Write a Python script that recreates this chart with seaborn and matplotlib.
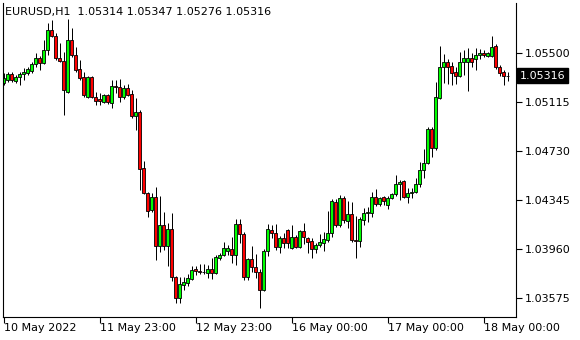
import matplotlib
matplotlib.use("Agg")
import matplotlib.pyplot as plt
import matplotlib.transforms as mtransforms
import seaborn as sns
import numpy as np
import pandas as pd

symbol_text = "EURUSD,H1  1.05314 1.05347 1.05276 1.05316"
last_price = 1.05316

opens = [1.05260, 1.05284, 1.05331, 1.05276, 1.05308, 1.05331, 1.05339, 1.05355, 1.05410, 1.05457,
         1.05418, 1.05520, 1.05677, 1.05630, 1.05457, 1.05433, 1.05190, 1.05598, 1.05480, 1.05370,
         1.05308, 1.05150, 1.05308, 1.05150, 1.05135, 1.05111, 1.05166, 1.05103, 1.05237, 1.05229,
         1.05150, 1.05221, 1.05174, 1.05001, 1.05033, 1.04593, 1.04396, 1.04263, 1.04365, 1.03980,
         1.04145, 1.03980, 1.04113, 1.03736, 1.03571, 1.03673, 1.03689, 1.03720, 1.03799, 1.03783,
         1.03775, 1.03768, 1.03799, 1.03768, 1.03885, 1.03909, 1.03940, 1.03956, 1.03909, 1.04153,
         1.04074, 1.03736, 1.03878, 1.03815, 1.03775, 1.03634, 1.03940, 1.04105, 1.04082, 1.03972,
         1.04043, 1.04105, 1.03964, 1.04050, 1.03972, 1.04098, 1.04043, 1.04019, 1.03956, 1.03988,
         1.04003, 1.04027, 1.04082, 1.04325, 1.04145, 1.04357, 1.04176, 1.04231, 1.04027, 1.04019,
         1.04184, 1.04239, 1.04239, 1.04365, 1.04310, 1.04365, 1.04302, 1.04357, 1.04388, 1.04467,
         1.04490, 1.04365, 1.04396, 1.04404, 1.04467, 1.04577, 1.04632, 1.04899, 1.04750, 1.05143,
         1.05386, 1.05425, 1.05394, 1.05347, 1.05315, 1.05425, 1.05425, 1.05457, 1.05449, 1.05480,
         1.05496, 1.05473, 1.05473, 1.05551, 1.05386, 1.05347, 1.05314]
highs = [1.05339, 1.05347, 1.05347, 1.05323, 1.05347, 1.05378, 1.05386, 1.05425, 1.05496, 1.05473,
         1.05598, 1.05732, 1.05755, 1.05653, 1.05575, 1.05504, 1.05763, 1.05693, 1.05543, 1.05441,
         1.05347, 1.05315, 1.05315, 1.05190, 1.05182, 1.05174, 1.05174, 1.05284, 1.05284, 1.05292,
         1.05245, 1.05253, 1.05205, 1.05143, 1.05048, 1.04648, 1.04404, 1.04396, 1.04443, 1.04373,
         1.04247, 1.04160, 1.04239, 1.03744, 1.03736, 1.03736, 1.03760, 1.03823, 1.03823, 1.03838,
         1.03838, 1.03830, 1.03885, 1.03909, 1.03925, 1.04011, 1.03988, 1.04050, 1.04192, 1.04192,
         1.04090, 1.03885, 1.03980, 1.03917, 1.03799, 1.03956, 1.04153, 1.04145, 1.04153, 1.04058,
         1.04082, 1.04113, 1.04145, 1.04066, 1.04105, 1.04160, 1.04050, 1.04043, 1.04003, 1.04074,
         1.04090, 1.04255, 1.04349, 1.04349, 1.04380, 1.04373, 1.04333, 1.04325, 1.04215, 1.04208,
         1.04278, 1.04286, 1.04404, 1.04428, 1.04365, 1.04373, 1.04373, 1.04396, 1.04538, 1.04498,
         1.04498, 1.04435, 1.04435, 1.04514, 1.04640, 1.04742, 1.04915, 1.04915, 1.05268, 1.05551,
         1.05488, 1.05449, 1.05425, 1.05386, 1.05504, 1.05520, 1.05535, 1.05496, 1.05535, 1.05528,
         1.05520, 1.05504, 1.05630, 1.05567, 1.05402, 1.05363, 1.05347]
lows = [1.05245, 1.05268, 1.05268, 1.05260, 1.05245, 1.05284, 1.05323, 1.05339, 1.05386, 1.05363,
        1.05410, 1.05480, 1.05622, 1.05441, 1.05425, 1.05009, 1.05182, 1.05465, 1.05347, 1.05284,
        1.05150, 1.05143, 1.05143, 1.05088, 1.05088, 1.05103, 1.05095, 1.05064, 1.05182, 1.05111,
        1.05135, 1.05158, 1.04985, 1.04891, 1.04420, 1.04388, 1.04208, 1.04247, 1.03870, 1.03933,
        1.03948, 1.03823, 1.03705, 1.03532, 1.03532, 1.03634, 1.03665, 1.03713, 1.03752, 1.03760,
        1.03760, 1.03728, 1.03720, 1.03760, 1.03870, 1.03901, 1.03909, 1.03846, 1.03830, 1.04003,
        1.03713, 1.03713, 1.03775, 1.03728, 1.03493, 1.03626, 1.03901, 1.04043, 1.03948, 1.03925,
        1.03964, 1.03964, 1.03956, 1.03964, 1.03964, 1.03995, 1.03925, 1.03885, 1.03925, 1.03972,
        1.03940, 1.04011, 1.04050, 1.04129, 1.04129, 1.04160, 1.04121, 1.04011, 1.03885, 1.03972,
        1.04145, 1.04168, 1.04208, 1.04294, 1.04294, 1.04302, 1.04270, 1.04349, 1.04373, 1.04341,
        1.04357, 1.04318, 1.04357, 1.04396, 1.04443, 1.04514, 1.04624, 1.04679, 1.04734, 1.05135,
        1.05260, 1.05253, 1.05245, 1.05253, 1.05308, 1.05323, 1.05198, 1.05386, 1.05363, 1.05449,
        1.05465, 1.05465, 1.05465, 1.05370, 1.05315, 1.05245, 1.05276]
closes = [1.05300, 1.05331, 1.05284, 1.05308, 1.05331, 1.05347, 1.05370, 1.05410, 1.05457, 1.05418,
          1.05520, 1.05677, 1.05630, 1.05457, 1.05433, 1.05205, 1.05598, 1.05480, 1.05363, 1.05300,
          1.05166, 1.05308, 1.05150, 1.05119, 1.05119, 1.05166, 1.05111, 1.05237, 1.05229, 1.05150,
          1.05221, 1.05166, 1.05001, 1.05033, 1.04585, 1.04396, 1.04255, 1.04365, 1.03980, 1.04145,
          1.03980, 1.04113, 1.03736, 1.03571, 1.03681, 1.03697, 1.03728, 1.03791, 1.03783, 1.03775,
          1.03778, 1.03799, 1.03768, 1.03893, 1.03909, 1.03964, 1.03964, 1.03909, 1.04153, 1.04074,
          1.03736, 1.03878, 1.03815, 1.03775, 1.03634, 1.03940, 1.04113, 1.04082, 1.03972, 1.04043,
          1.04003, 1.04003, 1.04050, 1.03972, 1.04098, 1.04050, 1.04011, 1.03956, 1.03988, 1.04011,
          1.04035, 1.04082, 1.04333, 1.04145, 1.04357, 1.04184, 1.04231, 1.04027, 1.04022, 1.04192,
          1.04239, 1.04247, 1.04365, 1.04310, 1.04357, 1.04333, 1.04357, 1.04388, 1.04467, 1.04483,
          1.04365, 1.04396, 1.04404, 1.04467, 1.04577, 1.04632, 1.04899, 1.04750, 1.05150, 1.05386,
          1.05425, 1.05386, 1.05339, 1.05315, 1.05425, 1.05457, 1.05457, 1.05425, 1.05480, 1.05496,
          1.05480, 1.05496, 1.05543, 1.05386, 1.05339, 1.05315, 1.05316]

time_tick_bars = [0, 24, 48, 72, 96, 120]
time_tick_labels = ["10 May 2022", "11 May 23:00", "12 May 23:00",
                    "16 May 00:00", "17 May 00:00", "18 May 00:00"]
price_ticks = [1.05500, 1.05115, 1.04730, 1.04345, 1.03960, 1.03575]

sns.set_theme(style="white")
plt.rcParams['font.family'] = ['DejaVu Sans']

W, H = 580, 340
fig = plt.figure(figsize=(W / 100, H / 100), dpi=100)
fig.patch.set_facecolor('white')
ax = fig.add_axes([3 / W, 1 - 317 / H, 513 / W, 314 / H])
ax.set_facecolor('white')

df = pd.DataFrame(dict(o=opens, h=highs, l=lows, c=closes))
df['x'] = np.arange(len(df))
up = df['c'] >= df['o']

ax.vlines(df['x'], df['l'], df['h'], color='black', linewidth=0.72, zorder=1)
bottom = np.minimum(df['o'], df['c'])
height = np.maximum(np.abs(df['c'] - df['o']), 0.000012)
ax.bar(df['x'], height, bottom=bottom, width=0.62,
       color=np.where(up, '#00ff00', '#ff0000'),
       edgecolor='black', linewidth=0.6, zorder=2)

ax.set_xlim(-0.125, 128.1)
ax.set_ylim(1.03422, 1.05889)

ax.yaxis.tick_right()
ax.set_yticks(price_ticks)
ax.set_yticklabels([f"{p:.5f}" for p in price_ticks])
ax.set_xticks(time_tick_bars)
ax.set_xticklabels(time_tick_labels, ha='left')
ax.tick_params(axis='y', which='both', direction='out', length=4, width=0.8,
               colors='black', labelsize=8, pad=2, right=True, left=False)
ax.tick_params(axis='x', which='both', direction='out', length=4, width=0.8,
               colors='black', labelsize=8, pad=0.5, bottom=True)
for lab in ax.get_xticklabels():
    lab.set_horizontalalignment('left')

for side in ['left', 'right', 'bottom', 'top']:
    ax.spines[side].set_color('black')
    ax.spines[side].set_linewidth(0.8)
ax.spines['top'].set_visible(False)

ax.text(2 / 513, 1 - 9 / 314, symbol_text, transform=ax.transAxes,
        ha='left', va='center', fontsize=8, color='black')

trans = mtransforms.blended_transform_factory(ax.transAxes, ax.transData)
ax.text(1 + 4 / 513, last_price, f"{last_price:.5f}", transform=trans,
        ha='left', va='center', fontsize=8, color='white',
        bbox=dict(facecolor='black', edgecolor='black', pad=1.8), clip_on=False)

fig.savefig("out.png", dpi=100, facecolor='white')
